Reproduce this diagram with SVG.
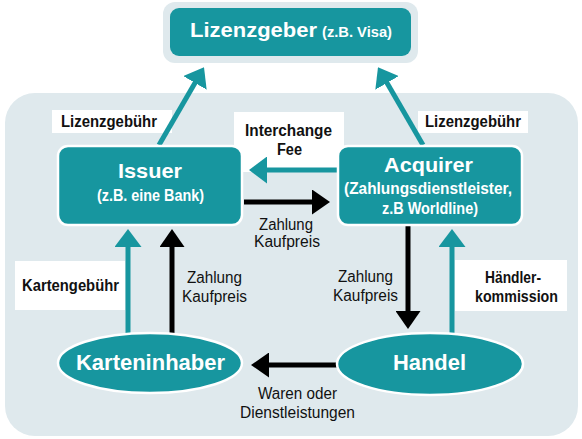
<svg xmlns="http://www.w3.org/2000/svg" width="582" height="439" viewBox="0 0 582 439">
<style>
.teal{fill:#17969f}
.node{fill:#17969f;stroke:#ffffff;stroke-width:2.5}
.lbl{fill:#ffffff}
.t{font-family:"Liberation Sans",Arial,sans-serif;font-weight:bold;fill:#ffffff}
.b{font-family:"Liberation Sans",Arial,sans-serif;font-weight:bold;font-size:16px;fill:#111111}
.r{font-family:"Liberation Sans",Arial,sans-serif;font-size:16px;fill:#111111}
.ct{stroke:#17969f;stroke-width:5;fill:none}
.cb{stroke:#000000;stroke-width:5;fill:none}
</style>
<defs>
<marker id="ht" markerUnits="userSpaceOnUse" viewBox="0 0 18 27" markerWidth="18" markerHeight="27" refX="8" refY="13.5" orient="auto">
<path d="M0,0 L18,13.5 L0,27 z" fill="#17969f"/>
</marker>
<marker id="hb" markerUnits="userSpaceOnUse" viewBox="0 0 18 25" markerWidth="18" markerHeight="25" refX="8" refY="12.5" orient="auto">
<path d="M0,0 L18,12.5 L0,25 z" fill="#000000"/>
</marker>
</defs>
<rect x="5" y="93" width="573" height="343" rx="30" fill="#dfe9ed"/>
<g id="labels">
<rect class="lbl" x="52" y="110" width="120" height="23"/>
<text class="b" x="61" y="127" textLength="96" lengthAdjust="spacingAndGlyphs">Lizenzgebühr</text>
<rect class="lbl" x="418" y="111" width="110" height="22"/>
<text class="b" x="425" y="127" textLength="96" lengthAdjust="spacingAndGlyphs">Lizenzgebühr</text>
<rect class="lbl" x="234" y="112" width="110" height="60"/>
<text class="b" x="245" y="136" textLength="87" lengthAdjust="spacingAndGlyphs">Interchange</text>
<text class="b" x="277" y="155" textLength="25" lengthAdjust="spacingAndGlyphs">Fee</text>
<rect class="lbl" x="15" y="261" width="110" height="49"/>
<text class="b" x="22" y="291" textLength="97" lengthAdjust="spacingAndGlyphs">Kartengebühr</text>
<rect class="lbl" x="455" y="260" width="112" height="51"/>
<text class="b" x="485" y="283" textLength="56" lengthAdjust="spacingAndGlyphs">Händler-</text>
<text class="b" x="475" y="302" textLength="83" lengthAdjust="spacingAndGlyphs">kommission</text>
<text class="r" x="187" y="283" textLength="55" lengthAdjust="spacingAndGlyphs">Zahlung</text>
<text class="r" x="182" y="302" textLength="65" lengthAdjust="spacingAndGlyphs">Kaufpreis</text>
<text class="r" x="338" y="282" textLength="55" lengthAdjust="spacingAndGlyphs">Zahlung</text>
<text class="r" x="333" y="301" textLength="65" lengthAdjust="spacingAndGlyphs">Kaufpreis</text>
<text class="r" x="259" y="230" textLength="54" lengthAdjust="spacingAndGlyphs">Zahlung</text>
<text class="r" x="254" y="247" textLength="66" lengthAdjust="spacingAndGlyphs">Kaufpreis</text>
<text class="r" x="258" y="399" textLength="79" lengthAdjust="spacingAndGlyphs">Waren oder</text>
<text class="r" x="240" y="418" textLength="115" lengthAdjust="spacingAndGlyphs">Dienstleistungen</text>
</g>
<g id="connectors">
<line class="ct" x1="159" y1="145" x2="199" y2="76" marker-end="url(#ht)"/>
<line class="ct" x1="423" y1="145" x2="383" y2="76" marker-end="url(#ht)"/>
<line class="ct" x1="337" y1="170" x2="259" y2="170" marker-end="url(#ht)"/>
<line class="cb" x1="244" y1="202" x2="320" y2="202" marker-end="url(#hb)"/>
<line class="ct" x1="128" y1="334" x2="128" y2="239" marker-end="url(#ht)"/>
<line class="cb" x1="172" y1="334" x2="172" y2="239" marker-end="url(#hb)"/>
<line class="cb" x1="408" y1="226" x2="408" y2="319" marker-end="url(#hb)"/>
<line class="ct" x1="452" y1="334" x2="452" y2="239" marker-end="url(#ht)"/>
<line class="cb" x1="338" y1="365" x2="261" y2="365" marker-end="url(#hb)"/>
</g>
<g id="lizenzgeber">
<rect x="163" y="2" width="255" height="61" rx="12" fill="#dfe9ed"/>
<rect class="teal" x="170" y="8" width="241" height="48" rx="9"/>
<text class="t" x="190" y="37" font-size="21" textLength="127" lengthAdjust="spacingAndGlyphs">Lizenzgeber</text>
<text class="t" x="322" y="37" font-size="15" textLength="70" lengthAdjust="spacingAndGlyphs">(z.B. Visa)</text>
</g>
<g id="issuer">
<rect class="node" x="58" y="146" width="184" height="79" rx="10"/>
<text class="t" x="118" y="178" font-size="21" textLength="64" lengthAdjust="spacingAndGlyphs">Issuer</text>
<text class="t" x="97" y="201" font-size="16" textLength="107" lengthAdjust="spacingAndGlyphs">(z.B. eine Bank)</text>
</g>
<g id="acquirer">
<rect class="node" x="338" y="146" width="184" height="79" rx="10"/>
<text class="t" x="384" y="172" font-size="21" textLength="89" lengthAdjust="spacingAndGlyphs">Acquirer</text>
<text class="t" x="344" y="194" font-size="16" textLength="168" lengthAdjust="spacingAndGlyphs">(Zahlungsdienstleister,</text>
<text class="t" x="382" y="214" font-size="16" textLength="96" lengthAdjust="spacingAndGlyphs">z.B Worldline)</text>
</g>
<g id="karteninhaber">
<ellipse class="node" cx="150" cy="363" rx="92" ry="30"/>
<text class="t" x="76" y="370" font-size="22" textLength="149" lengthAdjust="spacingAndGlyphs">Karteninhaber</text>
</g>
<g id="handel">
<ellipse class="node" cx="430" cy="364" rx="93" ry="31"/>
<text class="t" x="393" y="370" font-size="22" textLength="73" lengthAdjust="spacingAndGlyphs">Handel</text>
</g>
</svg>
